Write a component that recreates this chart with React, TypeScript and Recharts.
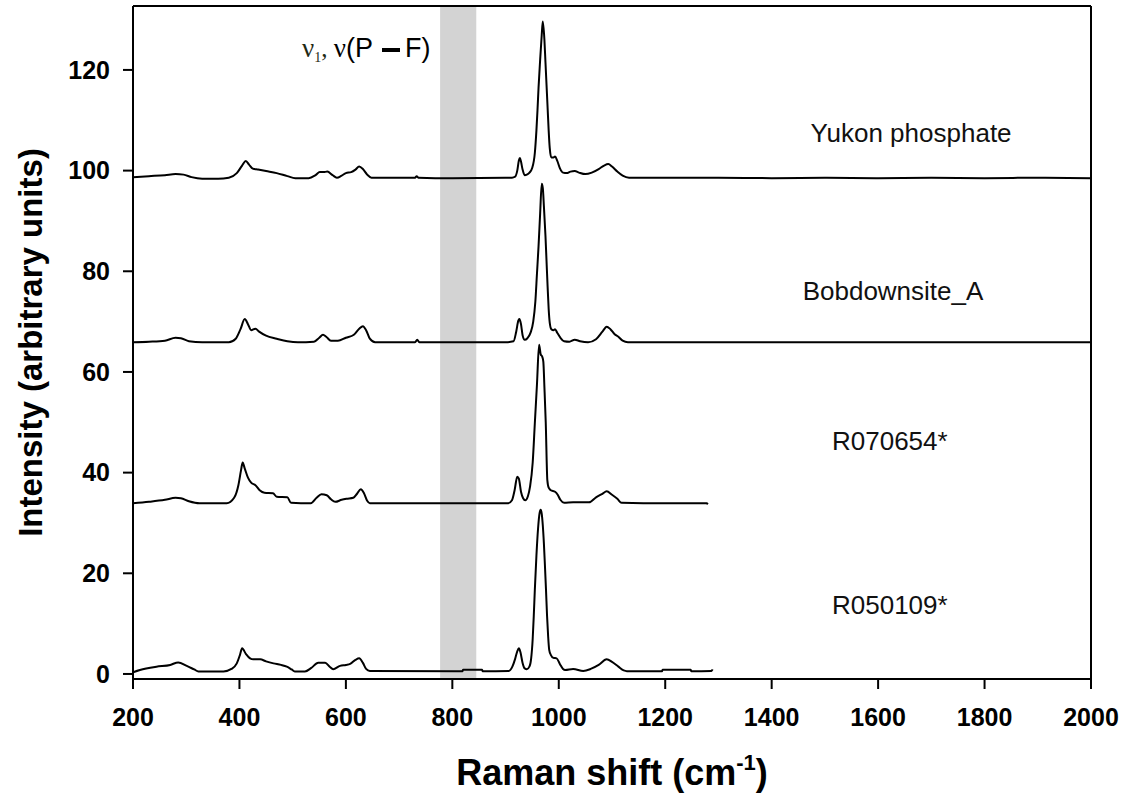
import React from 'react';
import { LineChart, Line, XAxis, YAxis, ReferenceArea, ReferenceLine, ReferenceDot, Label } from 'recharts';

const xTicks = [200, 400, 600, 800, 1000, 1200, 1400, 1600, 1800, 2000];
const yTicks = [0, 20, 40, 60, 80, 100, 120];

const yukon: [number, number][] = [
  [200, 98.7], [230, 98.9], [260, 99.1], [280, 99.3], [295, 99.2], [310, 98.7], [330, 98.4], [360, 98.4], [380, 98.6],
  [395, 99.5], [405, 101.0], [412, 101.9], [418, 101.2], [425, 100.4], [435, 100.2], [450, 99.9], [470, 99.5], [490, 98.9],
  [505, 98.5], [530, 98.5], [543, 99.1], [551, 99.7], [558, 99.7], [565, 99.8], [575, 99.1], [583, 98.6], [592, 99.0],
  [600, 99.5], [610, 99.7], [618, 100.2], [625, 100.8], [632, 100.3], [640, 99.2], [648, 98.6], [700, 98.6], [730, 98.6],
  [733, 98.9], [736, 98.6], [800, 98.5], [900, 98.6], [912, 98.6], [918, 98.8], [922, 100.0], [925, 102.0], [927, 102.5],
  [929, 101.8], [932, 100.2], [936, 99.1], [940, 99.2], [945, 99.6], [950, 100.5], [955, 103.5], [958, 108], [960, 112],
  [962, 116.5], [965, 122], [968, 127], [970, 129.6], [973, 126], [975, 121.5], [977, 117], [979, 112.5], [981, 108],
  [983, 104.5], [986, 102.6], [990, 102.6], [993, 102.8], [997, 102], [1002, 100.5], [1008, 99.6], [1015, 99.5],
  [1022, 99.8], [1030, 99.9], [1038, 99.6], [1050, 99.3], [1062, 99.6], [1075, 100.3], [1085, 101], [1093, 101.3],
  [1100, 100.8], [1110, 99.8], [1120, 99.0], [1132, 98.6], [1200, 98.6], [1300, 98.6], [1400, 98.5], [1500, 98.6],
  [1600, 98.5], [1700, 98.6], [1800, 98.5], [1900, 98.6], [2000, 98.5],
];

const bobdownsite: [number, number][] = [
  [200, 65.9], [230, 66.0], [260, 66.2], [280, 66.8], [290, 66.7], [305, 66.1], [330, 65.9], [380, 65.9], [393, 66.6],
  [402, 68.5], [410, 70.5], [416, 69.5], [422, 68.3], [430, 68.6], [437, 68.0], [450, 67.2], [470, 66.6], [490, 66.1],
  [510, 65.9], [540, 66.0], [550, 66.8], [557, 67.4], [563, 67.0], [572, 66.2], [585, 66.2], [600, 66.8], [615, 67.4],
  [625, 68.6], [632, 69.1], [638, 68.3], [645, 66.6], [655, 65.9], [730, 65.9], [734, 66.4], [738, 65.9], [900, 65.9],
  [915, 66.1], [920, 68.0], [924, 70.2], [926, 70.5], [929, 69.5], [932, 67.3], [936, 66.4], [941, 66.7], [947, 67.8],
  [952, 70.0], [956, 74.0], [959, 79.5], [962, 85.0], [965, 91.5], [968, 97.4], [970, 96.5], [972, 93.0], [975, 87.0],
  [977, 82.0], [979, 77.0], [981, 72.5], [983, 69.8], [986, 68.5], [990, 68.3], [993, 68.5], [997, 67.8], [1003, 66.8],
  [1010, 66.1], [1020, 66.0], [1030, 66.4], [1040, 66.1], [1055, 65.9], [1070, 66.5], [1082, 68.0], [1090, 69.0],
  [1097, 68.5], [1105, 67.5], [1112, 67.0], [1120, 66.2], [1130, 65.9], [1300, 65.9], [1500, 65.9], [1700, 65.9],
  [2000, 65.9],
];

const r070654: [number, number][] = [
  [200, 33.9], [230, 34.2], [260, 34.6], [280, 35.0], [290, 34.9], [305, 34.3], [325, 33.9], [376, 33.9], [390, 35.0],
  [398, 37.5], [403, 40.5], [406, 42.0], [410, 40.8], [416, 39.0], [422, 38.0], [430, 37.5], [438, 36.5], [447, 36.0],
  [463, 35.9], [470, 35.2], [490, 35.1], [497, 34.0], [534, 33.9], [545, 35.0], [554, 35.7], [564, 35.5], [572, 34.7],
  [580, 34.2], [592, 34.6], [601, 34.8], [614, 35.0], [621, 35.8], [628, 36.7], [634, 35.9], [640, 34.4], [645, 33.9],
  [905, 33.9], [912, 34.5], [917, 36.5], [922, 39.2], [925, 38.8], [929, 36.2], [933, 34.9], [937, 34.5], [942, 35.3],
  [946, 37.2], [951, 42.0], [955, 49.8], [959, 57.5], [963, 65.4], [966, 63.5], [969, 63.0], [971, 62.0], [973, 57.0],
  [975.5, 50.0], [978.5, 38.5], [981, 37.0], [985, 36.5], [993, 36.2], [998, 35.6], [1003, 34.6], [1010, 34.0],
  [1027, 34.1], [1057, 34.1], [1070, 35.1], [1082, 35.8], [1090, 36.3], [1100, 35.6], [1110, 34.8], [1118, 34.0],
  [1200, 33.9], [1278, 33.9], [1280, 33.7],
];

const r050109: [number, number][] = [
  [200, 0.35], [213, 0.8], [244, 1.45], [270, 1.8], [285, 2.3], [301, 1.6], [315, 0.9], [323, 0.5], [370, 0.5],
  [385, 1.0], [395, 2.1], [401, 3.8], [405, 5.1], [412, 4.0], [420, 3.1], [426, 2.9], [439, 2.9], [450, 2.5],
  [464, 2.1], [478, 1.8], [489, 1.45], [498, 0.9], [504, 0.5], [523, 0.5], [535, 1.2], [548, 2.25], [561, 2.25],
  [570, 1.4], [576, 0.95], [589, 1.6], [600, 1.8], [608, 2.0], [618, 2.8], [625, 3.1], [632, 2.2], [638, 1.0],
  [645, 0.6], [819, 0.55], [820, 0.85], [856, 0.85], [857, 0.55], [906, 0.6], [913, 1.5], [918, 3.0], [922, 4.5],
  [925, 5.1], [928, 4.3], [932, 2.2], [936, 1.1], [940, 0.95], [945, 1.5], [948, 3.0], [951, 7.0], [953, 11.5],
  [955, 16.7], [958, 23.5], [961, 28.8], [964, 32.0], [966, 32.6], [968, 31.8], [970, 29.5], [972, 26.0], [974, 21.5],
  [976, 16.7], [978, 11.5], [980, 7.5], [982, 4.8], [985, 3.8], [990, 3.2], [996, 3.1], [1002, 2.0], [1008, 1.0],
  [1012, 0.8], [1027, 1.0], [1046, 0.6], [1060, 1.0], [1075, 1.8], [1090, 2.9], [1100, 2.4], [1112, 1.45],
  [1122, 0.7], [1128, 0.55], [1194, 0.55], [1195, 0.85], [1248, 0.85], [1249, 0.55], [1287, 0.6], [1289, 0.9],
];

const seriesNames = ['Yukon phosphate', 'Bobdownsite_A', 'R070654*', 'R050109*'];
const seriesValues = [yukon, bobdownsite, r070654, r050109];
const labelPositions: [number, number][] = [[1662, 107.6], [1628, 76.2], [1622, 46.3], [1622, 13.7]];
const band: [number, number] = [777, 845];
const xDomain: [number, number] = [200, 2000];
const yDomain: [number, number] = [-1, 132.7];

const FONT = "'Liberation Sans', Arial, sans-serif";
const SERIF = "'Liberation Serif', 'Times New Roman', serif";

const toRows = (pts: [number, number][]) => pts.map(([x, y]) => ({ x, y }));

const XTitle = (props: any) => {
  const vb = props.viewBox || { x: 133, y: 679, width: 958, height: 122 };
  const cx = vb.x + vb.width / 2;
  return (
    <text x={cx} y={vb.y + 106} textAnchor="middle" fontFamily={FONT} fontWeight="bold" fontSize={36} fill="#000">
      Raman shift (cm<tspan dy={-15} fontSize={22}>-1</tspan><tspan dy={15}>)</tspan>
    </text>
  );
};

const YTitle = (props: any) => {
  const vb = props.viewBox || { x: 0, y: 6, width: 133, height: 673 };
  const cy = vb.y + vb.height / 2;
  const cx = 42;
  return (
    <text x={cx} y={cy} textAnchor="middle" transform={`rotate(-90, ${cx}, ${cy})`} fontFamily={FONT} fontWeight="bold" fontSize={33} fill="#000">
      Intensity (arbitrary units)
    </text>
  );
};

export default function App() {
  return (
    <div style={{ position: 'absolute', left: 0, top: 0, width: 1126, height: 801, background: '#fff' }}>
      <LineChart width={1126} height={801} margin={{ top: 6, right: 35, bottom: 0, left: 0 }}>
        <ReferenceArea x1={band[0]} x2={band[1]} fill="#d3d3d3" fillOpacity={1} stroke="none" />
        <XAxis
          dataKey="x"
          type="number"
          domain={xDomain}
          ticks={xTicks}
          allowDataOverflow
          height={122}
          tickSize={10}
          tickMargin={19}
          axisLine={{ stroke: '#000', strokeWidth: 2 }}
          tickLine={{ stroke: '#000', strokeWidth: 2 }}
          tick={{ fill: '#000', fontFamily: FONT, fontWeight: 'bold', fontSize: 25 }}
        >
          <Label content={<XTitle />} />
        </XAxis>
        <YAxis
          type="number"
          domain={yDomain}
          ticks={yTicks}
          allowDataOverflow
          width={133}
          tickSize={10}
          tickMargin={13}
          axisLine={{ stroke: '#000', strokeWidth: 2 }}
          tickLine={{ stroke: '#000', strokeWidth: 2 }}
          tick={{ fill: '#000', fontFamily: FONT, fontWeight: 'bold', fontSize: 25 }}
        >
          <Label content={<YTitle />} />
        </YAxis>
        <ReferenceLine y={yDomain[1]} stroke="#000" strokeWidth={2} />
        <ReferenceLine x={xDomain[1]} stroke="#000" strokeWidth={2} />
        {seriesValues.map((pts, i) => (
          <Line
            key={seriesNames[i]}
            data={toRows(pts)}
            dataKey="y"
            type="monotone"
            stroke="#000"
            strokeWidth={2}
            dot={false}
            isAnimationActive={false}
          />
        ))}
        {seriesNames.map((name, i) => (
          <ReferenceDot
            key={'lbl' + name}
            x={labelPositions[i][0]}
            y={labelPositions[i][1]}
            r={0}
            fill="none"
            stroke="none"
            label={{ value: name, position: 'center', fill: '#111', fontSize: 26, fontFamily: FONT }}
          />
        ))}
      </LineChart>
      <div
        style={{
          position: 'absolute',
          left: 302,
          top: 35,
          fontFamily: FONT,
          fontSize: 27,
          lineHeight: '27px',
          color: '#000',
          whiteSpace: 'nowrap',
        }}
      >
        <span style={{ fontFamily: SERIF, fontSize: 27, color: '#1f2a14' }}>ν</span>
        <span style={{ fontFamily: SERIF, fontSize: 14, color: '#1f2a14', position: 'relative', top: 5 }}>1</span>
        <span style={{ fontFamily: SERIF, fontSize: 25, color: '#1f2a14' }}>, </span>
        <span style={{ fontFamily: SERIF, fontSize: 27 }}>ν</span>
        <span>(P </span>
        <span style={{ display: 'inline-block', width: 18, height: 4, background: '#000', verticalAlign: 'middle', marginLeft: 2, marginRight: 5 }} />
        <span>F)</span>
      </div>
    </div>
  );
}
